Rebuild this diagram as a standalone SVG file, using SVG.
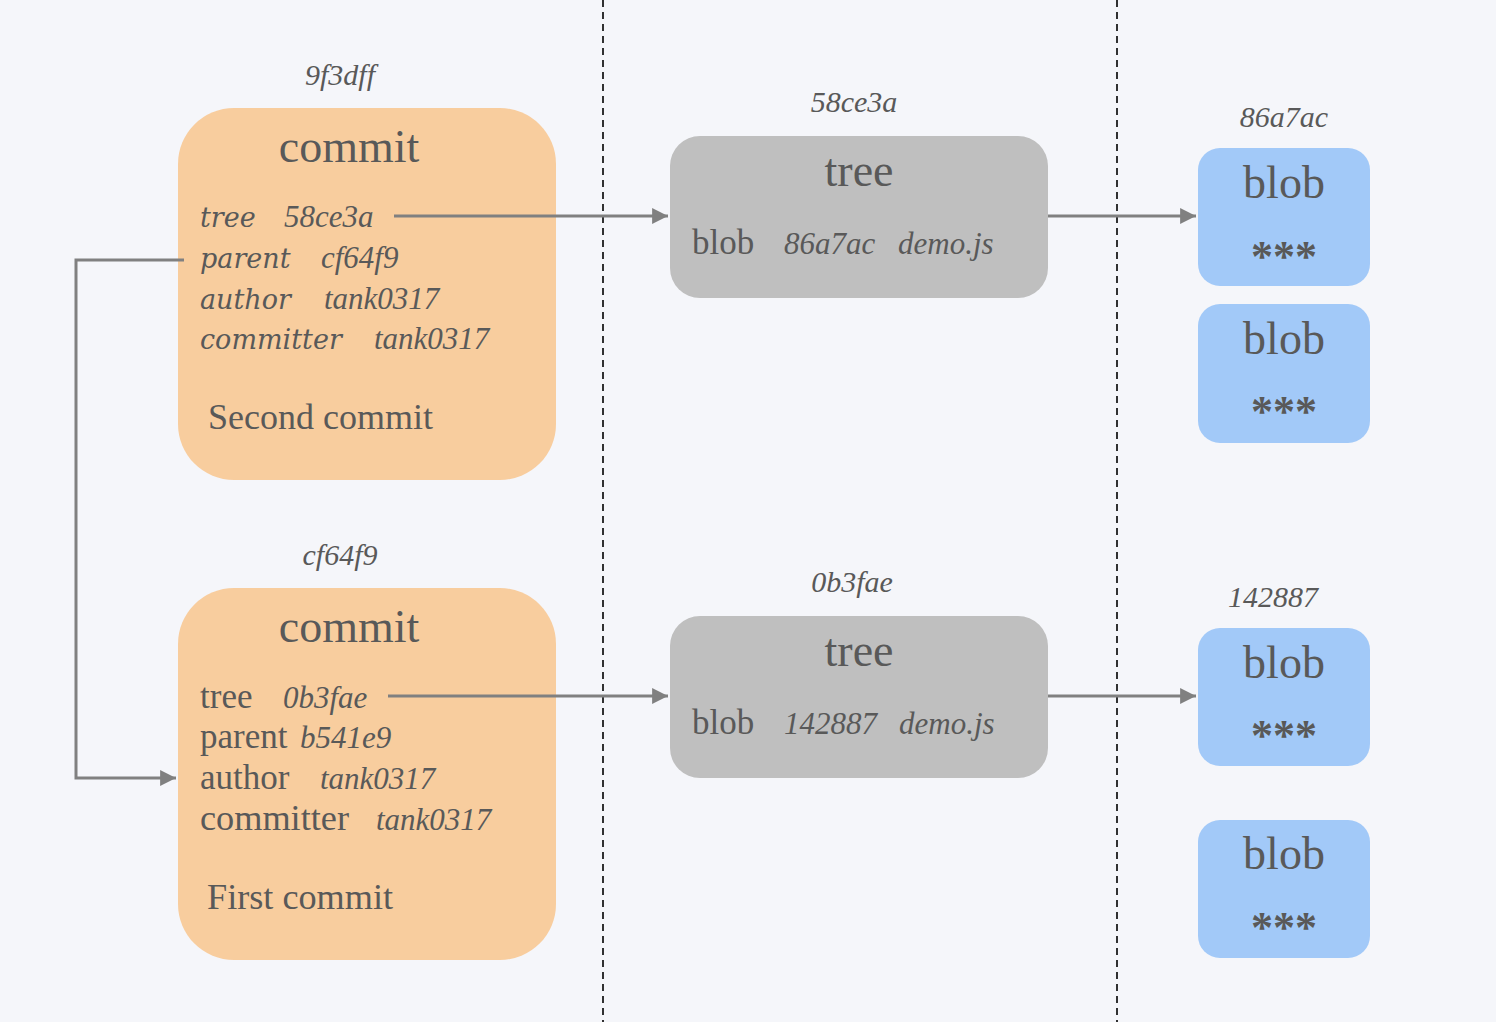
<svg xmlns="http://www.w3.org/2000/svg" width="1496" height="1022" viewBox="0 0 1496 1022">
<defs>
<marker id="ah" viewBox="0 0 10 10" refX="10" refY="5" markerWidth="5.3" markerHeight="5.3" markerUnits="strokeWidth" orient="auto">
<path d="M0,0 L10,5 L0,10 z" fill="#808080"/>
</marker>
<style>
.bg{fill:#F5F6FA}
.commit{fill:#F8CD9E}
.tree{fill:#BFBFBF}
.blob{fill:#A2C9F8}
text{font-family:"Liberation Serif","Times New Roman",serif;fill:#595959}
.title{font-size:46px;text-anchor:middle}
.label{font-size:30px;font-style:italic;text-anchor:middle}
.key{font-family:"DejaVu Serif",serif;font-size:27px;font-style:italic}
.val{font-size:31px;font-style:italic}
.rom{font-size:35px}
.stars{font-size:44px;font-weight:bold;text-anchor:middle}
.conn{fill:none;stroke:#808080;stroke-width:3}
.dash{stroke:#000;stroke-width:1.6;stroke-dasharray:7 5}
</style>
</defs>
<rect class="bg" x="0" y="0" width="1496" height="1022"/>
<g id="separators">
<line class="dash" x1="603" y1="0" x2="603" y2="1022"/>
<line class="dash" x1="1117" y1="0" x2="1117" y2="1022"/>
</g>
<g id="commit-9f3dff">
<text class="label" x="340" y="85">9f3dff</text>
<rect class="commit" x="178" y="108" width="378" height="372" rx="56"/>
<text class="title" x="349" y="162">commit</text>
<text class="key" x="200" y="227">tree</text><text class="val" x="284" y="227">58ce3a</text>
<text class="key" x="200" y="268">parent</text><text class="val" x="321" y="268">cf64f9</text>
<text class="key" x="200" y="309">author</text><text class="val" x="324" y="309">tank0317</text>
<text class="key" x="200" y="349">committer</text><text class="val" x="374" y="349">tank0317</text>
<text class="rom" x="208" y="429" textLength="225" lengthAdjust="spacingAndGlyphs">Second commit</text>
</g>
<g id="commit-cf64f9">
<text class="label" x="340" y="565">cf64f9</text>
<rect class="commit" x="178" y="588" width="378" height="372" rx="56"/>
<text class="title" x="349" y="642">commit</text>
<text class="rom" x="200" y="708">tree</text><text class="val" x="283" y="708">0b3fae</text>
<text class="rom" x="200" y="748">parent</text><text class="val" x="300" y="748">b541e9</text>
<text class="rom" x="200" y="789">author</text><text class="val" x="320" y="789">tank0317</text>
<text class="rom" x="200" y="830" textLength="149" lengthAdjust="spacingAndGlyphs">committer</text><text class="val" x="376" y="830">tank0317</text>
<text class="rom" x="207" y="909" textLength="186" lengthAdjust="spacingAndGlyphs">First commit</text>
</g>
<g id="tree-58ce3a">
<text class="label" x="854" y="112">58ce3a</text>
<rect class="tree" x="670" y="136" width="378" height="162" rx="30"/>
<text class="title" x="859" y="186">tree</text>
<text class="rom" x="692" y="254">blob</text>
<text class="val" x="784" y="254">86a7ac</text>
<text class="val" x="898" y="254">demo.js</text>
</g>
<g id="tree-0b3fae">
<text class="label" x="852" y="592">0b3fae</text>
<rect class="tree" x="670" y="616" width="378" height="162" rx="30"/>
<text class="title" x="859" y="666">tree</text>
<text class="rom" x="692" y="734">blob</text>
<text class="val" x="784" y="734">142887</text>
<text class="val" x="899" y="734">demo.js</text>
</g>
<g id="blob-86a7ac">
<text class="label" x="1284" y="127">86a7ac</text>
<rect class="blob" x="1198" y="148" width="172" height="138" rx="22"/>
<text class="title" x="1284" y="198">blob</text>
<text class="stars" x="1284" y="271">***</text>
</g>
<g id="blob-2">
<rect class="blob" x="1198" y="304" width="172" height="139" rx="22"/>
<text class="title" x="1284" y="354">blob</text>
<text class="stars" x="1284" y="426">***</text>
</g>
<g id="blob-142887">
<text class="label" x="1273" y="607">142887</text>
<rect class="blob" x="1198" y="628" width="172" height="138" rx="22"/>
<text class="title" x="1284" y="678">blob</text>
<text class="stars" x="1284" y="750">***</text>
</g>
<g id="blob-4">
<rect class="blob" x="1198" y="820" width="172" height="138" rx="22"/>
<text class="title" x="1284" y="869">blob</text>
<text class="stars" x="1284" y="942">***</text>
</g>
<g id="connectors">
<path class="conn" d="M394,216 H668" marker-end="url(#ah)"/>
<path class="conn" d="M1048,216 H1196" marker-end="url(#ah)"/>
<path class="conn" d="M388,696 H668" marker-end="url(#ah)"/>
<path class="conn" d="M1048,696 H1196" marker-end="url(#ah)"/>
<path class="conn" d="M184,260 H76 V778 H176" marker-end="url(#ah)"/>
</g>
</svg>
